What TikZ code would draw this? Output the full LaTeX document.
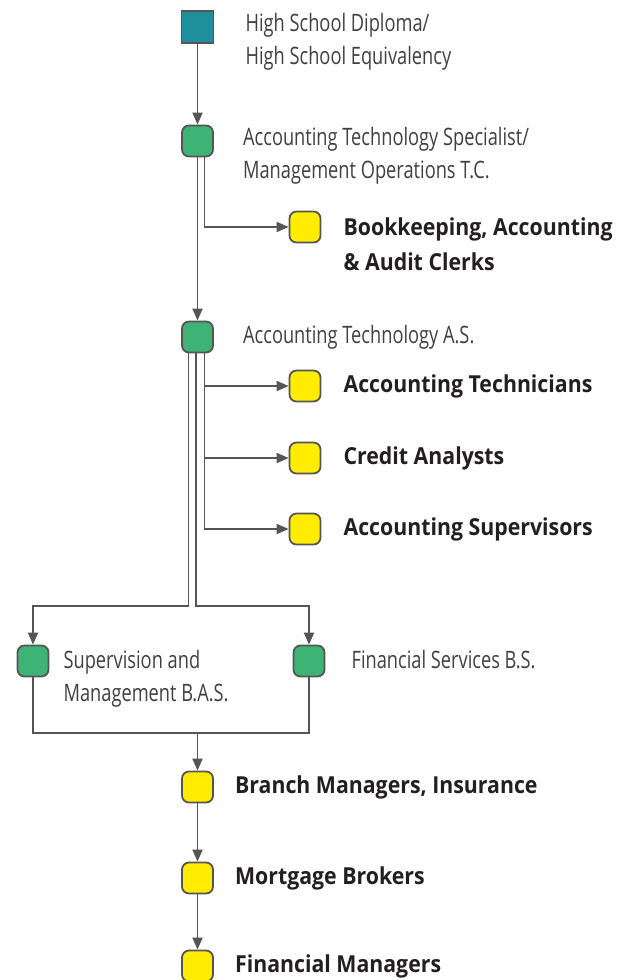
\documentclass[tikz,border=0pt]{standalone}
\usepackage{fontspec}
\usetikzlibrary{arrows.meta,calc}
\newfontfamily\litefont{Open Sans}[FakeStretch=0.76]
\newfontfamily\jobfont{Open Sans}[FakeStretch=0.91]
\definecolor{tealbox}{RGB}{31,143,155}
\definecolor{greenbox}{RGB}{61,179,118}
\definecolor{yellowbox}{RGB}{255,236,0}
\definecolor{edge}{RGB}{85,85,85}
\definecolor{litetext}{RGB}{64,64,64}
\definecolor{jobtext}{RGB}{35,31,32}

\begin{document}
\begin{tikzpicture}[x=1pt,y=-1pt]
 		\tikzset{box/.style={draw=edge,line width=1.8pt,minimum size=31pt,inner sep=0pt},
 		start/.style={box,minimum size=32pt,fill=tealbox},
 		prog/.style={box,rounded corners=7pt,fill=greenbox},
 		job/.style={box,rounded corners=7pt,fill=yellowbox},
 		every label/.style={align=left,inner sep=0pt,font=\litefont\fontsize{24}{33}\selectfont,text=litetext},
 		joblabel/.style={font=\jobfont\bfseries\fontsize{23.4}{34.5}\selectfont,text=jobtext},
 		link/.style={draw=edge,line width=1.8pt},
 		arrow/.style={link,-{Triangle[length=12pt,width=10pt]}}}
 		\useasboundingbox (0,0) rectangle (630,980);

 		\node[start] (hsd) at (197.5,27) [label={[label distance=31pt,yshift=-14.5pt]right:High School Diploma/\\High School Equivalency}] {};
 		\node[prog] (ats) at (197.5,141) [label={[label distance=29pt,yshift=-15pt]right:Accounting Technology Specialist/\\Management Operations T.C.}] {};
 		\node[job] (bac) at (305,227) [label={[joblabel,label distance=22pt,yshift=-17pt]right:Bookkeeping, Accounting\\\&~Audit Clerks}] {};
 		\node[prog] (ata) at (197.5,337) [label={[label distance=29pt]right:Accounting Technology A.S.}] {};
 		\node[job] (tec) at (305,386) [label={[joblabel,label distance=22pt]right:Accounting Technicians}] {};
 		\node[job] (cra) at (305,458) [label={[joblabel,label distance=22pt]right:Credit Analysts}] {};
 		\node[job] (acs) at (305,529) [label={[joblabel,label distance=22pt]right:Accounting Supervisors}] {};
 		\node[prog] (sma) at (33,661) [label={[label distance=14pt,yshift=-17.5pt]right:Supervision and\\Management B.A.S.}] {};
 		\node[prog] (fsb) at (309,661) [label={[label distance=26pt,yshift=1pt]right:Financial Services B.S.}] {};
 		\node[job] (brm) at (197.5,787) [label={[joblabel,label distance=21pt]right:Branch Managers, Insurance}] {};
 		\node[job] (mob) at (197.5,878) [label={[joblabel,label distance=21pt]right:Mortgage Brokers}] {};
 		\node[job] (fin) at (197.5,966) [label={[joblabel,label distance=21pt]right:Financial Managers}] {};
 		\coordinate (split) at (0,606);
 		\coordinate (merge) at (197.5,733);

 		\draw[arrow] (hsd) -- (ats);
 		\draw[arrow] (ats) -- (ata);
 		\draw[arrow] ([xshift=7pt]ats.south) |- (bac);

 		\draw[arrow] ([xshift=7pt]ata.south) |- (tec);
 		\draw[arrow] ([xshift=7pt]ata.south) |- (cra);
 		\draw[arrow] ([xshift=7pt]ata.south) |- (acs);
 		\draw[arrow] ([xshift=-9pt]ata.south) -- ([xshift=-9pt]ata.south |- split) -| (sma);
 		\draw[arrow] ([xshift=-1.5pt]ata.south) -- ([xshift=-1.5pt]ata.south |- split) -| (fsb);

 		\draw[link] (sma) |- (merge) -| (fsb);
 		\draw[arrow] (merge) -- (brm);
 		\draw[arrow] (brm) -- (mob);
 		\draw[arrow] (mob) -- (fin);
 	\end{tikzpicture}
\end{document}
